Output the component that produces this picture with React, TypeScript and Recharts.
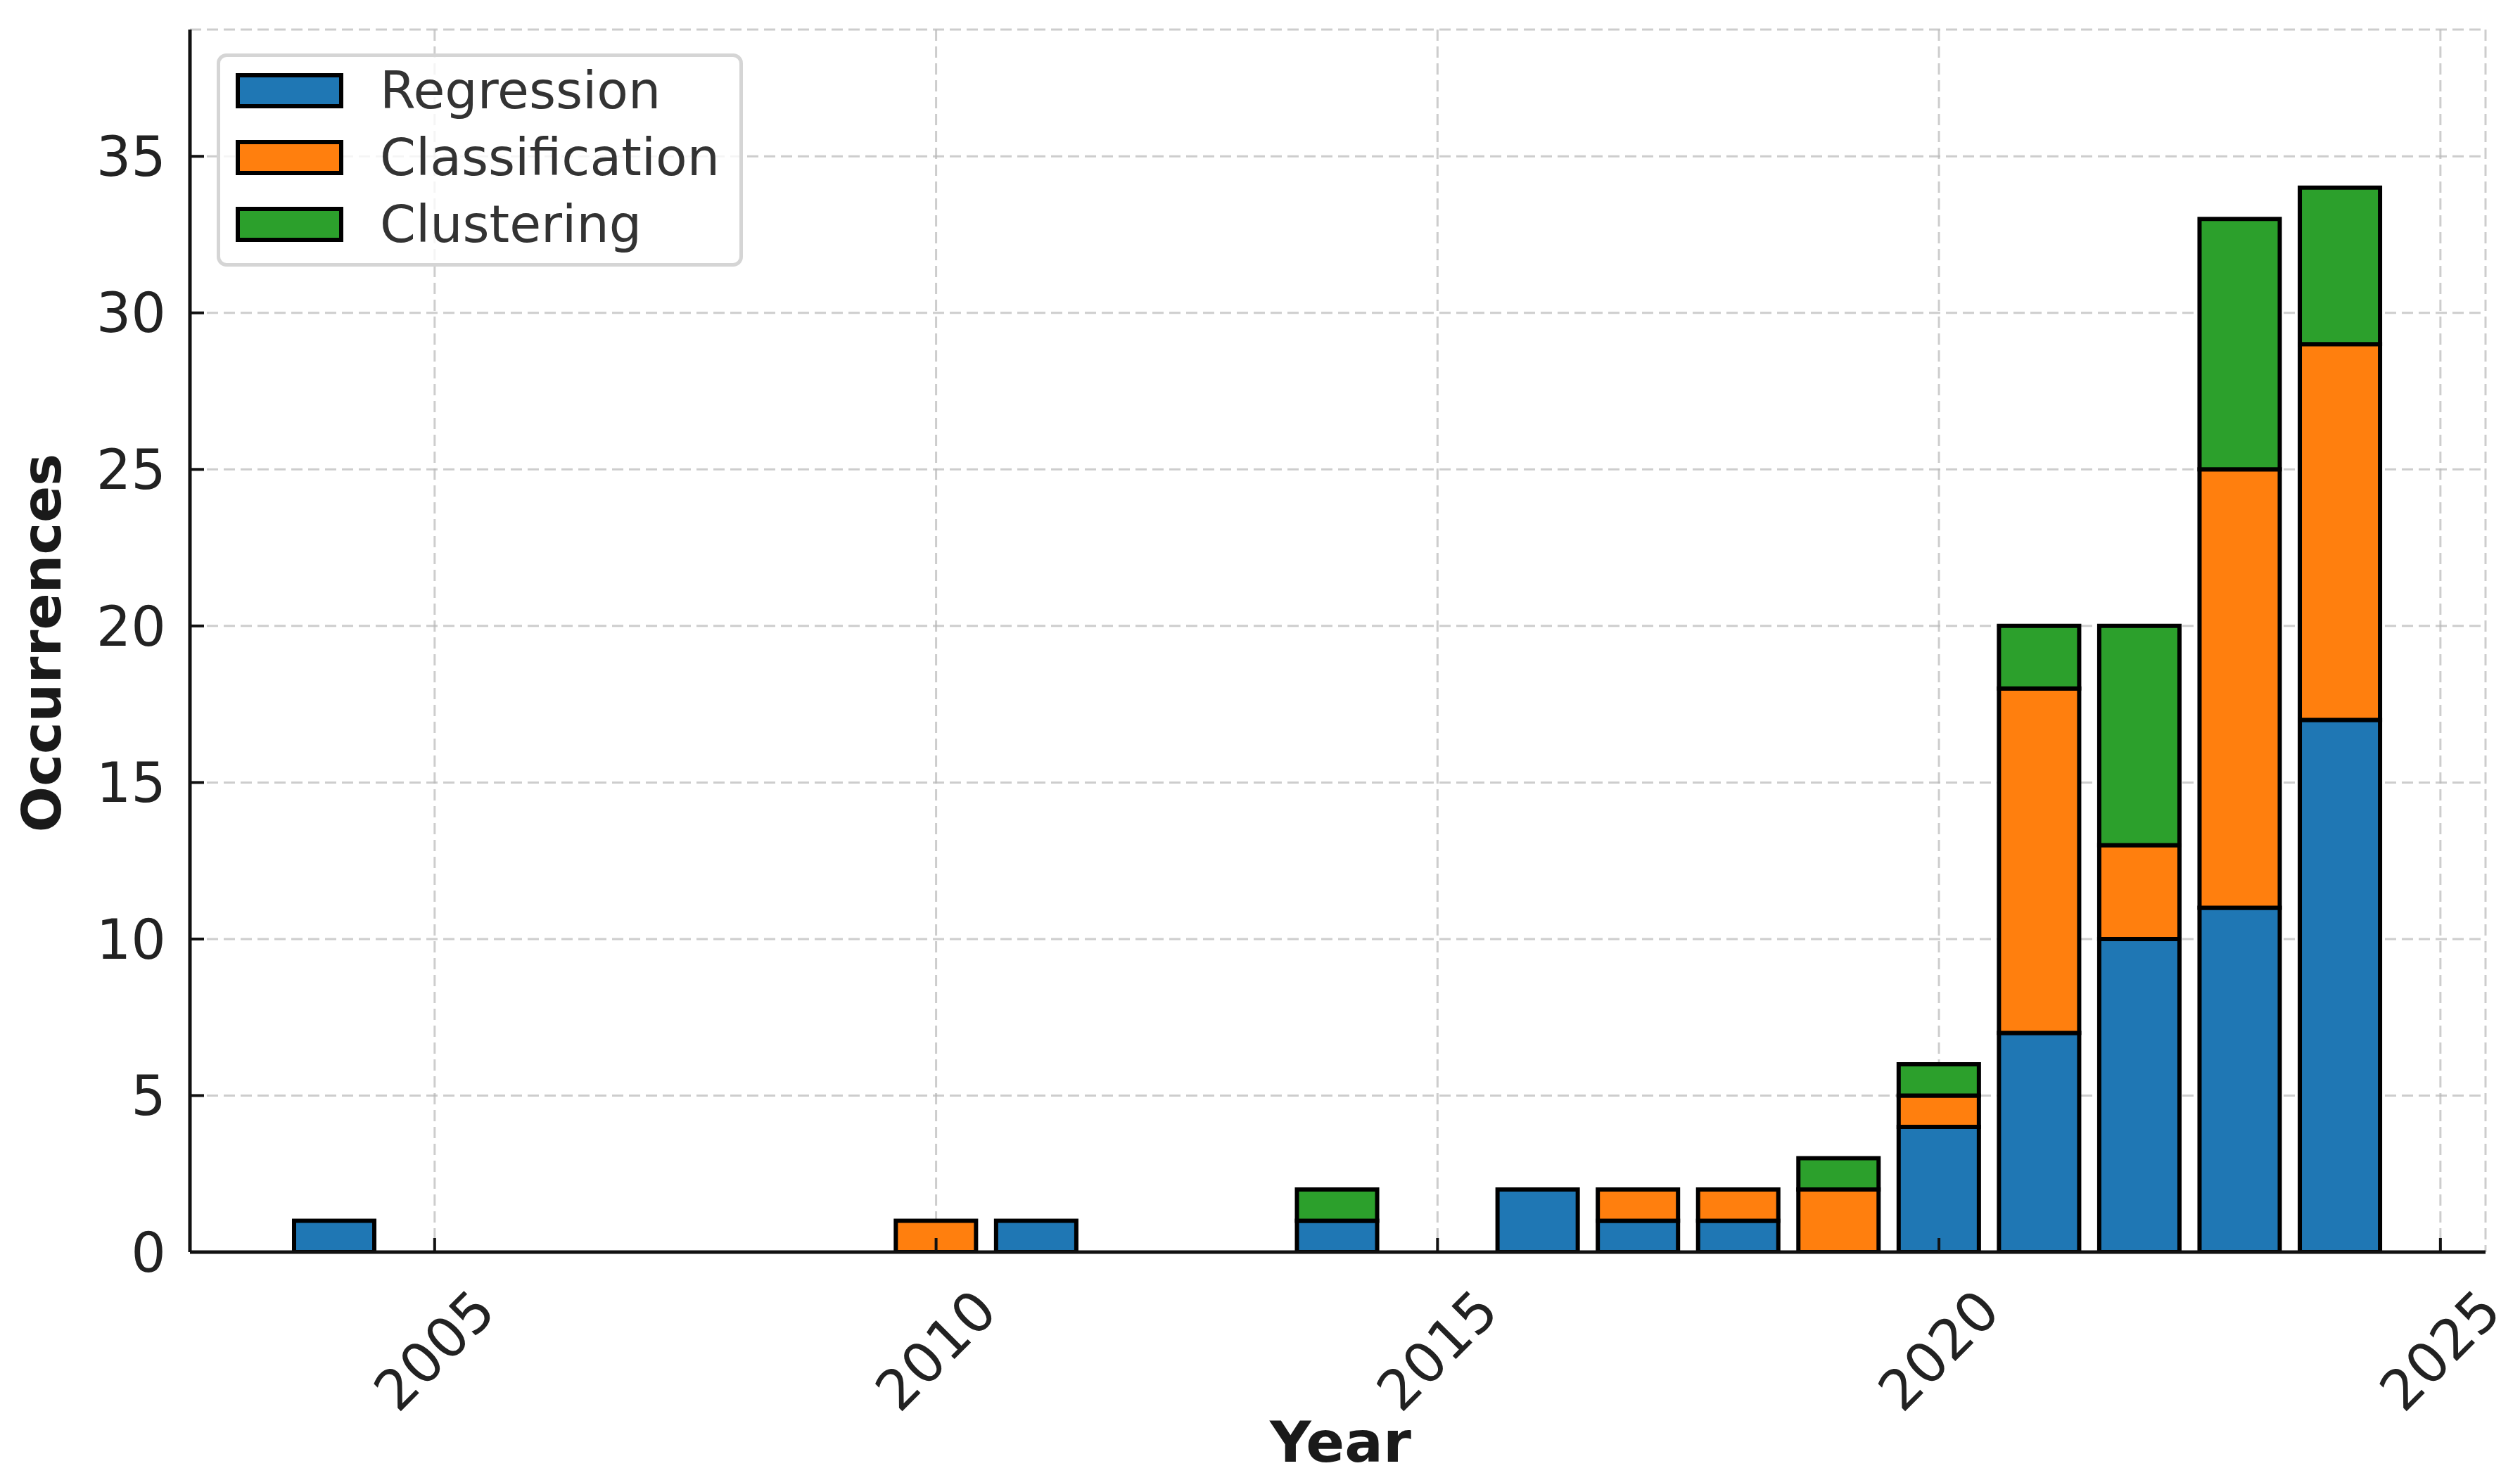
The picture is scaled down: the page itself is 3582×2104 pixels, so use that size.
import React from 'react';
import { BarChart, Bar, XAxis, YAxis, CartesianGrid, Legend } from 'recharts';

// data
const years = [
  2004, 2005, 2006, 2007, 2008, 2009, 2010, 2011, 2012, 2013, 2014,
  2015, 2016, 2017, 2018, 2019, 2020, 2021, 2022, 2023, 2024,
];
const regression = [1, 0, 0, 0, 0, 0, 0, 1, 0, 0, 1, 0, 2, 1, 1, 0, 4, 7, 10, 11, 17];
const classification = [0, 0, 0, 0, 0, 0, 1, 0, 0, 0, 0, 0, 0, 1, 1, 2, 1, 11, 3, 14, 12];
const clustering = [0, 0, 0, 0, 0, 0, 0, 0, 0, 0, 1, 0, 0, 0, 0, 1, 1, 2, 7, 8, 5];

const seriesNames = ['Regression', 'Classification', 'Clustering'];
const seriesColors = ['#1f77b4', '#ff7f0e', '#2ca02c'];

const xTicks = [2005, 2010, 2015, 2020, 2025];
const yTicks = [0, 5, 10, 15, 20, 25, 30, 35];

const data = years.map((year, i) => ({
  year,
  Regression: regression[i],
  Classification: classification[i],
  Clustering: clustering[i],
}));

const W = 3582;
const H = 2104;
const MARGIN = { top: 42, right: 49, left: 0, bottom: 0 };
const Y_AXIS_W = 270;
const X_AXIS_H = 324;
const X_DOMAIN: [number, number] = [2002.56, 2025.45];
const Y_DOMAIN: [number, number] = [0, 39.05];
const FONT = 'DejaVu Sans';

const plotW = W - MARGIN.left - MARGIN.right - Y_AXIS_W;
const barSize = (0.8 * plotW) / (X_DOMAIN[1] - X_DOMAIN[0]);

const XTick = ({ x, y, payload }: any) => (
  <text
    x={x}
    y={y}
    textAnchor="middle"
    dominantBaseline="central"
    transform={`rotate(-45, ${x}, ${y})`}
    fill="#222"
    fontSize={79}
    fontFamily={FONT}
  >
    {payload.value}
  </text>
);

const YLabel = ({ viewBox }: any) => {
  const cx = viewBox.x + 59;
  const cy = viewBox.y + viewBox.height / 2 + 3;
  return (
    <text
      x={cx}
      y={cy}
      transform={`rotate(-90, ${cx}, ${cy})`}
      textAnchor="middle"
      dominantBaseline="central"
      fontSize={77}
      fontWeight="bold"
      fontFamily={FONT}
      fill="#1a1a1a"
    >
      Occurrences
    </text>
  );
};

const XLabel = ({ viewBox }: any) => (
  <text
    x={viewBox.x + viewBox.width / 2 + 4}
    y={viewBox.y + 270}
    textAnchor="middle"
    dominantBaseline="central"
    fontSize={81}
    fontWeight="bold"
    fontFamily={FONT}
    fill="#1a1a1a"
  >
    Year
  </text>
);

const LegendBox = ({ payload }: any) => {
  const items = [...(payload || [])].sort(
    (a: any, b: any) => seriesNames.indexOf(a.value) - seriesNames.indexOf(b.value),
  );
  return (
    <div
      style={{
        boxSizing: 'border-box',
        width: 748,
        height: 303,
        border: '5px solid #d5d5d5',
        borderRadius: 14,
        background: 'rgba(255,255,255,0.8)',
        paddingLeft: 22,
      }}
    >
      {items.map((e: any) => (
        <div key={e.value} style={{ display: 'flex', alignItems: 'center', height: 95 }}>
          <div
            style={{
              boxSizing: 'border-box',
              width: 153,
              height: 50,
              border: '6px solid #000',
              background: e.color,
            }}
          />
          <span
            style={{
              marginLeft: 52,
              fontSize: 73,
              lineHeight: 1,
              color: '#333',
              fontFamily: FONT,
            }}
          >
            {e.value}
          </span>
        </div>
      ))}
    </div>
  );
};

export default function App() {
  return (
    <div style={{ position: 'absolute', left: 0, top: 0, width: W, height: H, background: '#fff' }}>
      <BarChart width={W} height={H} data={data} margin={MARGIN} style={{ fontFamily: FONT }}>
        <XAxis
          dataKey="year"
          type="number"
          domain={X_DOMAIN}
          ticks={xTicks}
          allowDataOverflow
          height={X_AXIS_H}
          axisLine={{ stroke: '#111', strokeWidth: 5 }}
          tickLine={{ stroke: '#111', strokeWidth: 4 }}
          tickSize={-20}
          tickMargin={160}
          tick={<XTick />}
          label={<XLabel />}
        />
        <YAxis
          type="number"
          domain={Y_DOMAIN}
          ticks={yTicks}
          allowDataOverflow
          width={Y_AXIS_W}
          axisLine={{ stroke: '#111', strokeWidth: 5 }}
          tickLine={{ stroke: '#111', strokeWidth: 4 }}
          tickSize={-20}
          tickMargin={54}
          tick={{ fill: '#222', fontSize: 78, fontFamily: FONT }}
          label={<YLabel />}
        />
        {seriesNames.map((name, i) => (
          <Bar
            key={name}
            dataKey={name}
            stackId="a"
            fill={seriesColors[i]}
            stroke="#000"
            strokeWidth={6}
            barSize={barSize}
            isAnimationActive={false}
          />
        ))}
        <CartesianGrid
          stroke="#b8b8b8"
          strokeOpacity={0.7}
          strokeWidth={3}
          strokeDasharray="16 8"
        />
        <Legend
          layout="horizontal"
          verticalAlign="middle"
          align="center"
          itemSorter={null as any}
          content={<LegendBox />}
          wrapperStyle={{ left: 308, top: 76, width: 748, height: 303 }}
        />
      </BarChart>
    </div>
  );
}
